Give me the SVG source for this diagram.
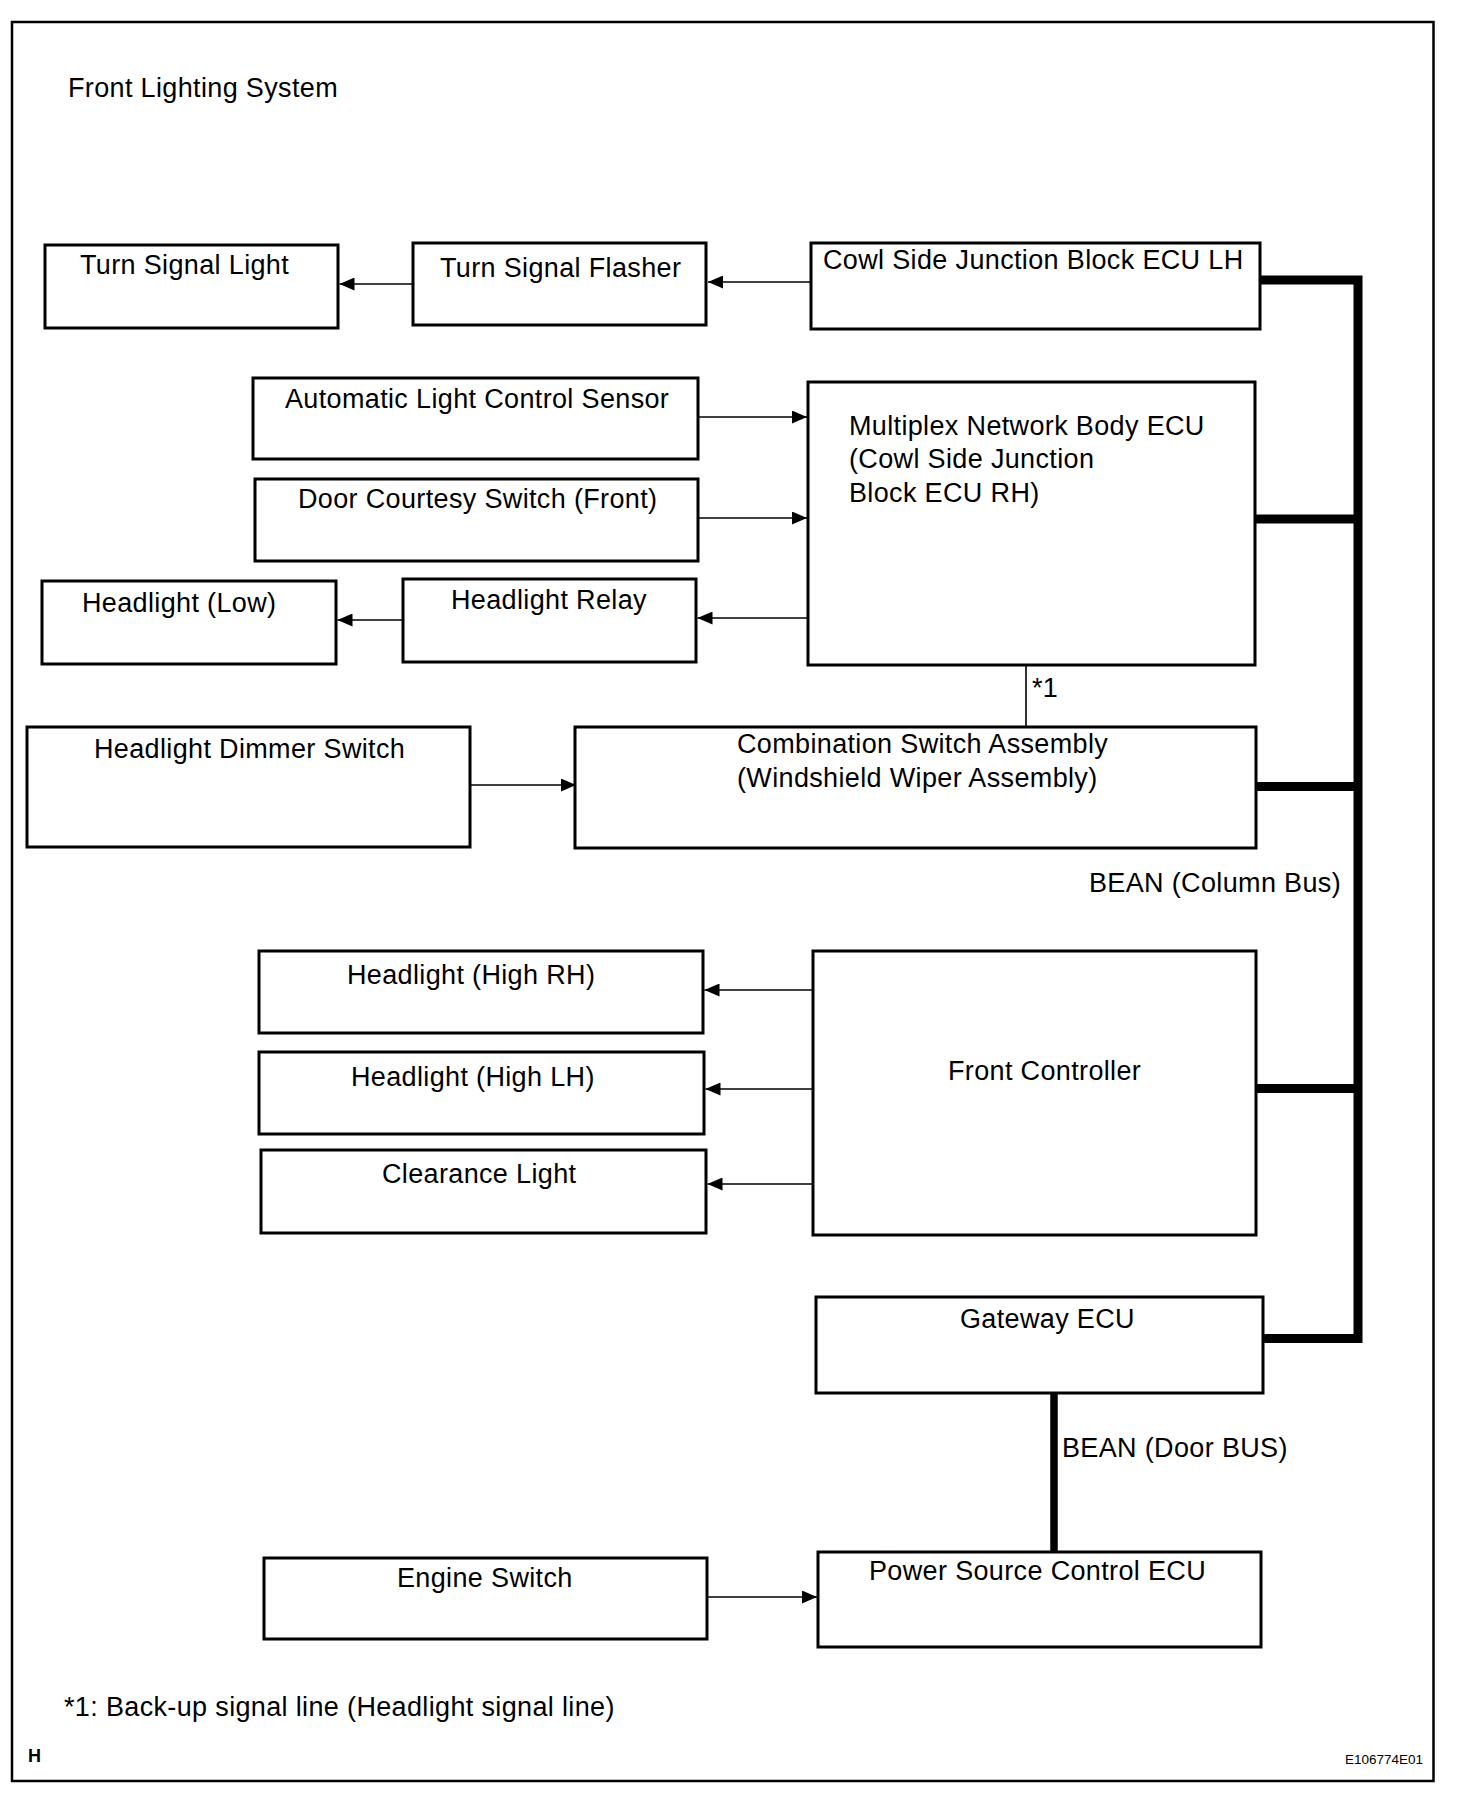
<svg xmlns="http://www.w3.org/2000/svg" width="1472" height="1800" viewBox="0 0 1472 1800">
<style>
  .box { fill: #fff; stroke: #000; stroke-width: 3; }
  .lbl { font-family: "Liberation Sans", Arial, sans-serif; font-size: 27px; letter-spacing: 0.35px; fill: #000; }
  .conn { stroke: #000; stroke-width: 1.6; fill: none; }
  .bus { stroke: #000; stroke-width: 9; fill: none; stroke-linejoin: miter; }
</style>
<defs>
  <marker id="arr" markerUnits="userSpaceOnUse" markerWidth="15" markerHeight="13" refX="15" refY="6.5" orient="auto">
    <path d="M0,0 L15,6.5 L0,13 z" fill="#000"/>
  </marker>
</defs>
<rect width="1472" height="1800" fill="#fff"/>
<rect x="12" y="22" width="1421.5" height="1759" fill="none" stroke="#000" stroke-width="2.5"/>
<text class="lbl" x="68" y="97">Front Lighting System</text>

<g id="connectors">
  <line class="conn" x1="811" y1="282" x2="708" y2="282" marker-end="url(#arr)"/>
  <line class="conn" x1="413" y1="284" x2="339.5" y2="284" marker-end="url(#arr)"/>
  <line class="conn" x1="698" y1="417" x2="807" y2="417" marker-end="url(#arr)"/>
  <line class="conn" x1="698" y1="518" x2="807" y2="518" marker-end="url(#arr)"/>
  <line class="conn" x1="808" y1="618" x2="697.5" y2="618" marker-end="url(#arr)"/>
  <line class="conn" x1="403" y1="620" x2="337.5" y2="620" marker-end="url(#arr)"/>
  <line class="conn" x1="471" y1="785" x2="576" y2="785" marker-end="url(#arr)"/>
  <line class="conn" x1="1026" y1="665" x2="1026" y2="727"/>
  <line class="conn" x1="813" y1="990" x2="704.5" y2="990" marker-end="url(#arr)"/>
  <line class="conn" x1="813" y1="1089" x2="705.5" y2="1089" marker-end="url(#arr)"/>
  <line class="conn" x1="813" y1="1184" x2="707.5" y2="1184" marker-end="url(#arr)"/>
  <line class="conn" x1="707" y1="1597" x2="817" y2="1597" marker-end="url(#arr)"/>
  <path class="bus" d="M1261,280 H1358 V1338.5 H1264"/>
  <path class="bus" d="M1256,519 H1358"/>
  <path class="bus" d="M1256,786.5 H1358"/>
  <path class="bus" d="M1256,1088.5 H1358"/>
  <path class="bus" d="M1054,1393 V1552" style="stroke-width:7.5"/>
  <text class="lbl" x="1032" y="697">*1</text>
  <text class="lbl" x="1089" y="892">BEAN (Column Bus)</text>
  <text class="lbl" x="1062" y="1457">BEAN (Door BUS)</text>
</g>

<g id="turn-signal-light"><rect class="box" x="45" y="245" width="293" height="83"/><text class="lbl" x="80" y="274">Turn Signal Light</text></g>
<g id="turn-signal-flasher"><rect class="box" x="413" y="243" width="293" height="82"/><text class="lbl" x="440" y="277">Turn Signal Flasher</text></g>
<g id="cowl-lh"><rect class="box" x="811" y="243" width="449" height="86"/><text class="lbl" x="823" y="269">Cowl Side Junction Block ECU LH</text></g>
<g id="alcs"><rect class="box" x="253" y="378" width="445" height="81"/><text class="lbl" x="285" y="408">Automatic Light Control Sensor</text></g>
<g id="door-courtesy"><rect class="box" x="255" y="479" width="443" height="82"/><text class="lbl" x="298" y="508">Door Courtesy Switch (Front)</text></g>
<g id="headlight-low"><rect class="box" x="42" y="581" width="294" height="83"/><text class="lbl" x="82" y="612">Headlight (Low)</text></g>
<g id="headlight-relay"><rect class="box" x="403" y="579" width="293" height="83"/><text class="lbl" x="451" y="609">Headlight Relay</text></g>
<g id="multiplex"><rect class="box" x="808" y="382" width="447" height="283"/>
  <text class="lbl" x="849" y="435">Multiplex Network Body ECU</text>
  <text class="lbl" x="849" y="468">(Cowl Side Junction</text>
  <text class="lbl" x="849" y="502">Block ECU RH)</text></g>
<g id="dimmer"><rect class="box" x="27" y="727" width="443" height="120"/><text class="lbl" x="94" y="758">Headlight Dimmer Switch</text></g>
<g id="combination"><rect class="box" x="575" y="727" width="681" height="121"/>
  <text class="lbl" x="737" y="753">Combination Switch Assembly</text>
  <text class="lbl" x="737" y="787">(Windshield Wiper Assembly)</text></g>
<g id="high-rh"><rect class="box" x="259" y="951" width="444" height="82"/><text class="lbl" x="347" y="984">Headlight (High RH)</text></g>
<g id="high-lh"><rect class="box" x="259" y="1052" width="445" height="82"/><text class="lbl" x="351" y="1086">Headlight (High LH)</text></g>
<g id="clearance"><rect class="box" x="261" y="1150" width="445" height="83"/><text class="lbl" x="382" y="1183">Clearance Light</text></g>
<g id="front-controller"><rect class="box" x="813" y="951" width="443" height="284"/><text class="lbl" x="948" y="1080">Front Controller</text></g>
<g id="gateway"><rect class="box" x="816" y="1297" width="447" height="96"/><text class="lbl" x="960" y="1328">Gateway ECU</text></g>
<g id="engine-switch"><rect class="box" x="264" y="1558" width="443" height="81"/><text class="lbl" x="397" y="1587">Engine Switch</text></g>
<g id="power-source"><rect class="box" x="818" y="1552" width="443" height="95"/><text class="lbl" x="869" y="1580">Power Source Control ECU</text></g>

<text class="lbl" x="64" y="1716">*1: Back-up signal line (Headlight signal line)</text>
<text x="28" y="1762" style="font-family:'Liberation Sans',Arial,sans-serif;font-size:18px;font-weight:bold">H</text>
<text x="1423" y="1764" text-anchor="end" style="font-family:'Liberation Sans',Arial,sans-serif;font-size:13.5px">E106774E01</text>
</svg>
